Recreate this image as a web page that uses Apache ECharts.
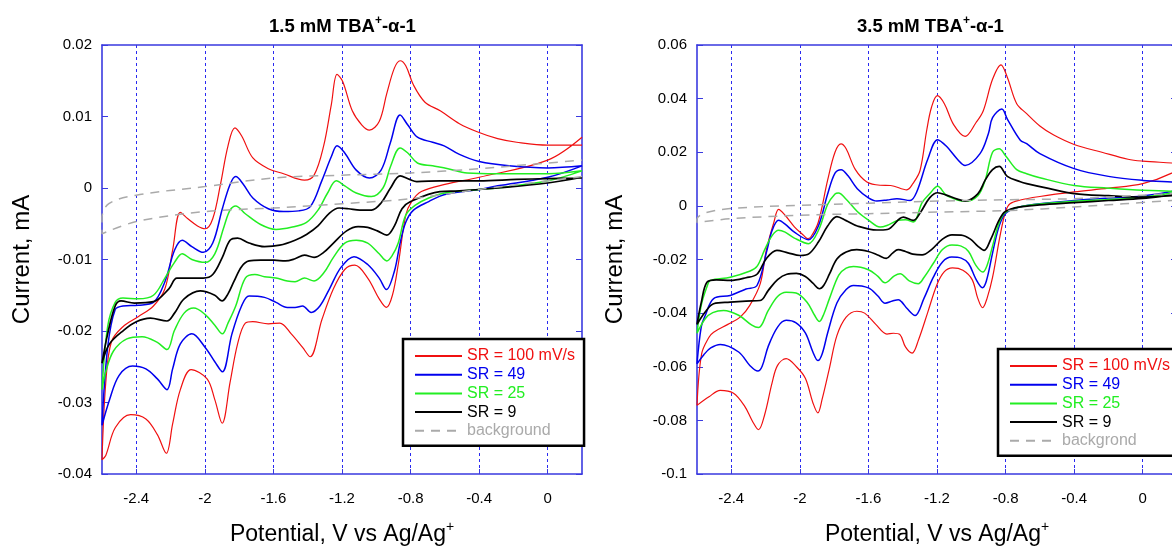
<!DOCTYPE html>
<html>
<head>
<meta charset="utf-8">
<script src="https://cdn.jsdelivr.net/npm/echarts@6/dist/echarts.min.js"></script>
<style>
html,body{margin:0;padding:0;background:#fff;}
#chart{width:1172px;height:546px;}
</style>
</head>
<body>
<div id="chart"></div>
<script>
// ---------- tick labels ----------
const xTicks = [-2.4, -2, -1.6, -1.2, -0.8, -0.4, 0];
const seriesNames = ['SR = 100 mV/s', 'SR = 49', 'SR = 25', 'SR = 9'];
const bgNameLeft = 'background';
const bgNameRight = 'backgrond';

// ---------- 1.5 mM panel: [potential V, current mA] ----------
const L100cath = [[0.2,0.0071],[0,0.0039],[-0.4,0.0015],[-0.6,0.0005],[-0.737,-0.0005],[-0.794,-0.0019],[-0.828,-0.0038],[-0.872,-0.0107],[-0.906,-0.015],[-0.941,-0.0167],[-0.983,-0.0155],[-1.05,-0.0126],[-1.125,-0.0108],[-1.184,-0.0114],[-1.25,-0.0141],[-1.317,-0.0184],[-1.386,-0.0236],[-1.43,-0.0223],[-1.496,-0.0204],[-1.563,-0.0189],[-1.63,-0.019],[-1.72,-0.0187],[-1.764,-0.0189],[-1.809,-0.0218],[-1.853,-0.0272],[-1.899,-0.0329],[-1.942,-0.0296],[-1.987,-0.0267],[-2.08,-0.0254],[-2.143,-0.0282],[-2.188,-0.033],[-2.225,-0.0371],[-2.277,-0.0345],[-2.344,-0.0323],[-2.433,-0.0317],[-2.522,-0.0335],[-2.578,-0.0374],[-2.6,-0.038]];
const L100anod = [[-2.578,-0.0272],[-2.545,-0.0215],[-2.478,-0.0194],[-2.389,-0.018],[-2.3,-0.0165],[-2.233,-0.0141],[-2.188,-0.0087],[-2.143,-0.0034],[-2.099,-0.0043],[-2.043,-0.0053],[-1.998,-0.0057],[-1.954,-0.0043],[-1.909,0.0005],[-1.865,0.0059],[-1.825,0.0084],[-1.786,0.0073],[-1.72,0.0042],[-1.63,0.0027],[-1.541,0.002],[-1.419,0.0011],[-1.363,0.0018],[-1.307,0.0059],[-1.262,0.0117],[-1.229,0.0159],[-1.196,0.0149],[-1.14,0.0108],[-1.084,0.0088],[-1.04,0.0081],[-0.983,0.0093],[-0.939,0.0132],[-0.894,0.0168],[-0.861,0.0178],[-0.828,0.0171],[-0.783,0.0144],[-0.716,0.012],[-0.627,0.0108],[-0.515,0.009],[-0.404,0.0078],[-0.292,0.0069],[-0.181,0.0064],[0,0.006],[0.2,0.006]];
const L49cath = [[0.2,0.0031],[0,0.0015],[-0.292,0.0003],[-0.4,-0.0002],[-0.6,-0.0009],[-0.694,-0.0019],[-0.783,-0.0031],[-0.828,-0.0048],[-0.861,-0.0077],[-0.894,-0.0116],[-0.941,-0.0142],[-0.983,-0.0126],[-1.05,-0.0107],[-1.13,-0.0096],[-1.206,-0.0111],[-1.273,-0.0141],[-1.329,-0.0165],[-1.38,-0.0174],[-1.43,-0.0165],[-1.474,-0.0167],[-1.519,-0.0167],[-1.585,-0.016],[-1.652,-0.0153],[-1.742,-0.0151],[-1.786,-0.0165],[-1.842,-0.0204],[-1.898,-0.0257],[-1.942,-0.0243],[-1.998,-0.0223],[-2.076,-0.0204],[-2.143,-0.0218],[-2.188,-0.0253],[-2.221,-0.0282],[-2.277,-0.0267],[-2.344,-0.0253],[-2.422,-0.0249],[-2.5,-0.0262],[-2.556,-0.0296],[-2.6,-0.0332]];
const L49anod = [[-2.567,-0.0223],[-2.523,-0.017],[-2.478,-0.0165],[-2.389,-0.0164],[-2.3,-0.016],[-2.233,-0.0131],[-2.177,-0.0087],[-2.132,-0.0073],[-2.076,-0.0082],[-2.009,-0.009],[-1.954,-0.0077],[-1.898,-0.0029],[-1.853,0.0005],[-1.82,0.0016],[-1.775,0.0005],[-1.72,-0.0014],[-1.63,-0.0029],[-1.541,-0.0033],[-1.452,-0.0032],[-1.385,-0.0026],[-1.318,0.001],[-1.262,0.0044],[-1.229,0.0059],[-1.184,0.0049],[-1.117,0.0025],[-1.04,0.0014],[-0.972,0.0025],[-0.917,0.0064],[-0.861,0.0102],[-0.816,0.0088],[-0.76,0.0071],[-0.671,0.0064],[-0.604,0.0059],[-0.515,0.0047],[-0.4,0.0037],[-0.226,0.0031],[0,0.0028],[0.2,0.0031]];
const L25cath = [[0.2,0.0024],[0,0.001],[-0.292,0],[-0.4,-0.0002],[-0.6,-0.0007],[-0.694,-0.0014],[-0.772,-0.0024],[-0.828,-0.0038],[-0.872,-0.0077],[-0.906,-0.0094],[-0.939,-0.0102],[-0.983,-0.0092],[-1.05,-0.0077],[-1.117,-0.0073],[-1.184,-0.0077],[-1.25,-0.0097],[-1.307,-0.0119],[-1.363,-0.013],[-1.419,-0.0126],[-1.474,-0.0131],[-1.519,-0.013],[-1.585,-0.0126],[-1.652,-0.0124],[-1.708,-0.0121],[-1.764,-0.0126],[-1.82,-0.0165],[-1.865,-0.0189],[-1.898,-0.0204],[-1.942,-0.0192],[-1.998,-0.0177],[-2.065,-0.0168],[-2.121,-0.0175],[-2.177,-0.0199],[-2.221,-0.0226],[-2.277,-0.0216],[-2.366,-0.0208],[-2.455,-0.0211],[-2.533,-0.0228],[-2.578,-0.0257],[-2.6,-0.0282]];
const L25anod = [[-2.567,-0.0194],[-2.523,-0.016],[-2.478,-0.0154],[-2.389,-0.0155],[-2.3,-0.015],[-2.233,-0.0126],[-2.177,-0.0104],[-2.132,-0.0092],[-2.076,-0.01],[-1.998,-0.0104],[-1.942,-0.0092],[-1.887,-0.0053],[-1.853,-0.0031],[-1.82,-0.0025],[-1.764,-0.0036],[-1.675,-0.0051],[-1.585,-0.0058],[-1.496,-0.0055],[-1.407,-0.0048],[-1.34,-0.0031],[-1.284,-0.0007],[-1.233,0.001],[-1.184,0.0003],[-1.117,-0.0007],[-1.028,-0.0012],[-0.961,0],[-0.917,0.003],[-0.861,0.0056],[-0.816,0.0049],[-0.76,0.0035],[-0.671,0.0031],[-0.582,0.0027],[-0.47,0.0021],[-0.292,0.002],[0,0.002],[0.2,0.0024]];
const L9cath = [[0.2,0.0015],[0,0.0007],[-0.292,0],[-0.515,-0.0004],[-0.629,-0.0005],[-0.8,-0.0019],[-0.85,-0.0029],[-0.894,-0.0053],[-0.939,-0.0066],[-0.994,-0.006],[-1.05,-0.0055],[-1.106,-0.0054],[-1.173,-0.006],[-1.25,-0.0077],[-1.307,-0.009],[-1.363,-0.0097],[-1.419,-0.0094],[-1.474,-0.0099],[-1.53,-0.0102],[-1.597,-0.0101],[-1.675,-0.0101],[-1.742,-0.0102],[-1.786,-0.011],[-1.831,-0.0131],[-1.865,-0.0148],[-1.9,-0.0158],[-1.942,-0.015],[-2.027,-0.0144],[-2.121,-0.0155],[-2.177,-0.0175],[-2.221,-0.0186],[-2.318,-0.0182],[-2.4,-0.0187],[-2.474,-0.0199],[-2.556,-0.0218],[-2.6,-0.0245]];
const L9anod = [[-2.567,-0.0204],[-2.523,-0.0165],[-2.489,-0.0158],[-2.411,-0.0161],[-2.3,-0.0159],[-2.21,-0.0141],[-2.163,-0.0126],[-2.088,-0.0126],[-2.009,-0.0126],[-1.954,-0.0121],[-1.898,-0.0097],[-1.853,-0.0073],[-1.809,-0.007],[-1.742,-0.0077],[-1.652,-0.0082],[-1.563,-0.008],[-1.474,-0.0073],[-1.407,-0.0065],[-1.34,-0.0053],[-1.273,-0.0035],[-1.217,-0.0028],[-1.162,-0.0029],[-1.095,-0.0031],[-1.028,-0.0031],[-0.972,-0.0021],[-0.917,0],[-0.861,0.0017],[-0.806,0.0012],[-0.764,0.0009],[-0.627,0.001],[-0.4,0.001],[-0.181,0.0012],[0,0.0013],[0.2,0.0014]];
const LbgCath = [[0.2,0.0016],[-0.4,-0.0002],[-0.8,-0.0015],[-1.2,-0.0022],[-1.6,-0.0028],[-2.0,-0.0033],[-2.4,-0.0047],[-2.6,-0.0064]];
const LbgAnod = [[-2.6,-0.0042],[-2.56,-0.0022],[-2.4,-0.001],[-2.0,0.0002],[-1.6,0.0014],[-1.2,0.0018],[-0.8,0.0021],[-0.4,0.0027],[0,0.0035],[0.2,0.0039]];

// ---------- 3.5 mM panel: [potential V, current mA] ----------
const R100cath = [[0.2,0.0145],[0.169,0.0122],[0,0.0083],[-0.2,0.0066],[-0.4,0.0052],[-0.6,0.0035],[-0.714,0.0022],[-0.774,0.0008],[-0.8,-0.0021],[-0.832,-0.0111],[-0.876,-0.0267],[-0.908,-0.0345],[-0.934,-0.038],[-0.962,-0.0345],[-0.995,-0.0275],[-1.049,-0.024],[-1.11,-0.0231],[-1.157,-0.0245],[-1.2,-0.0293],[-1.254,-0.0397],[-1.308,-0.05],[-1.345,-0.0549],[-1.384,-0.0526],[-1.416,-0.048],[-1.454,-0.0475],[-1.492,-0.0478],[-1.557,-0.0442],[-1.622,-0.04],[-1.668,-0.0393],[-1.73,-0.0415],[-1.784,-0.0484],[-1.827,-0.0604],[-1.87,-0.0721],[-1.895,-0.0772],[-1.924,-0.0734],[-1.968,-0.0643],[-2.02,-0.06],[-2.08,-0.057],[-2.13,-0.0595],[-2.162,-0.066],[-2.205,-0.0778],[-2.241,-0.0835],[-2.275,-0.0805],[-2.324,-0.0745],[-2.389,-0.0698],[-2.464,-0.0688],[-2.53,-0.0712],[-2.6,-0.0744]];
const R100anod = [[-2.573,-0.0552],[-2.53,-0.049],[-2.503,-0.0471],[-2.42,-0.0442],[-2.348,-0.0415],[-2.292,-0.0371],[-2.231,-0.029],[-2.195,-0.0163],[-2.151,-0.006],[-2.124,-0.0013],[-2.086,-0.0035],[-2.032,-0.0078],[-1.978,-0.011],[-1.955,-0.0122],[-1.935,-0.0115],[-1.892,-0.006],[-1.838,0.0096],[-1.795,0.02],[-1.76,0.0231],[-1.73,0.0213],[-1.676,0.0135],[-1.609,0.0089],[-1.532,0.0077],[-1.47,0.0076],[-1.376,0.006],[-1.341,0.0083],[-1.299,0.0132],[-1.26,0.0282],[-1.232,0.0368],[-1.198,0.0411],[-1.157,0.0381],[-1.103,0.0303],[-1.036,0.0259],[-0.973,0.031],[-0.93,0.0355],[-0.876,0.0472],[-0.827,0.0526],[-0.789,0.0478],[-0.735,0.0381],[-0.677,0.0344],[-0.6,0.0298],[-0.519,0.0264],[-0.4,0.0229],[-0.238,0.02],[-0.086,0.0174],[0,0.0167],[0.169,0.016],[0.2,0.0158]];
const R49cath = [[0.2,0.006],[0.169,0.0054],[0,0.0037],[-0.2,0.0029],[-0.4,0.002],[-0.6,0.0008],[-0.714,-0.0003],[-0.774,-0.0017],[-0.81,-0.0035],[-0.843,-0.0086],[-0.876,-0.0176],[-0.912,-0.028],[-0.935,-0.0305],[-0.973,-0.0273],[-1.016,-0.0215],[-1.059,-0.0195],[-1.114,-0.0191],[-1.168,-0.0209],[-1.222,-0.0267],[-1.276,-0.0345],[-1.328,-0.0409],[-1.373,-0.0384],[-1.406,-0.0358],[-1.425,-0.035],[-1.46,-0.0355],[-1.503,-0.0363],[-1.546,-0.0335],[-1.6,-0.0306],[-1.687,-0.0297],[-1.73,-0.0312],[-1.784,-0.0362],[-1.838,-0.0474],[-1.87,-0.0552],[-1.895,-0.0577],[-1.924,-0.0545],[-1.968,-0.0474],[-2.022,-0.0436],[-2.08,-0.0427],[-2.13,-0.0452],[-2.184,-0.0523],[-2.22,-0.0598],[-2.245,-0.0616],[-2.292,-0.0595],[-2.357,-0.0545],[-2.464,-0.0517],[-2.52,-0.053],[-2.56,-0.0555],[-2.6,-0.0589]];
const R49anod = [[-2.575,-0.045],[-2.552,-0.0409],[-2.503,-0.0346],[-2.406,-0.0334],[-2.314,-0.031],[-2.25,-0.0297],[-2.192,-0.0166],[-2.162,-0.0092],[-2.124,-0.0054],[-2.086,-0.0068],[-2.032,-0.0098],[-1.95,-0.0126],[-1.892,-0.0075],[-1.838,0.0044],[-1.795,0.0122],[-1.759,0.0135],[-1.719,0.0112],[-1.665,0.0064],[-1.6,0.003],[-1.551,0.0018],[-1.49,0.0022],[-1.434,0.0027],[-1.357,0.002],[-1.319,0.0051],[-1.254,0.0174],[-1.196,0.0247],[-1.146,0.0223],[-1.081,0.0174],[-1.036,0.0151],[-0.949,0.0195],[-0.9,0.027],[-0.876,0.0329],[-0.822,0.0361],[-0.789,0.0323],[-0.714,0.0245],[-0.677,0.0232],[-0.6,0.0195],[-0.4,0.0139],[-0.2,0.011],[0,0.0095],[0.169,0.0089],[0.2,0.0088]];
const R25cath = [[0.2,0.0052],[0.169,0.0048],[0,0.0032],[-0.2,0.0024],[-0.4,0.0017],[-0.6,0.0007],[-0.714,-0.0003],[-0.774,-0.0015],[-0.81,-0.003],[-0.843,-0.0073],[-0.876,-0.015],[-0.908,-0.0222],[-0.933,-0.0247],[-0.973,-0.0222],[-1.016,-0.017],[-1.059,-0.015],[-1.113,-0.0146],[-1.168,-0.0163],[-1.222,-0.0215],[-1.276,-0.0267],[-1.309,-0.029],[-1.362,-0.028],[-1.415,-0.0253],[-1.449,-0.0261],[-1.503,-0.0287],[-1.546,-0.0262],[-1.6,-0.0238],[-1.687,-0.0226],[-1.73,-0.0232],[-1.773,-0.0258],[-1.827,-0.0345],[-1.86,-0.0403],[-1.886,-0.0431],[-1.914,-0.0408],[-1.957,-0.036],[-2.022,-0.0325],[-2.08,-0.0322],[-2.13,-0.0338],[-2.184,-0.039],[-2.241,-0.0454],[-2.28,-0.0445],[-2.357,-0.0408],[-2.445,-0.039],[-2.508,-0.0398],[-2.551,-0.042],[-2.6,-0.0475]];
const R25anod = [[-2.575,-0.037],[-2.541,-0.03],[-2.522,-0.0278],[-2.406,-0.0266],[-2.29,-0.0243],[-2.249,-0.0225],[-2.205,-0.0163],[-2.162,-0.0111],[-2.124,-0.0091],[-2.086,-0.0098],[-2.032,-0.012],[-1.95,-0.0141],[-1.892,-0.0092],[-1.838,0.0005],[-1.795,0.0044],[-1.775,0.0048],[-1.73,0.0025],[-1.665,-0.0021],[-1.6,-0.0053],[-1.532,-0.0079],[-1.492,-0.0073],[-1.425,-0.0054],[-1.384,-0.0052],[-1.338,-0.006],[-1.287,0.0012],[-1.243,0.0045],[-1.196,0.0073],[-1.146,0.004],[-1.081,0.0022],[-1.036,0.0017],[-0.962,0.0038],[-0.919,0.0096],[-0.876,0.02],[-0.837,0.0213],[-0.8,0.0187],[-0.735,0.0135],[-0.677,0.012],[-0.6,0.0105],[-0.4,0.0076],[-0.2,0.0066],[0,0.0058],[0.169,0.0055],[0.2,0.0055]];
const R9cath = [[0.2,0.0042],[0.169,0.004],[0,0.0028],[-0.2,0.002],[-0.4,0.0012],[-0.6,0.0004],[-0.714,-0.0004],[-0.774,-0.0013],[-0.81,-0.0025],[-0.843,-0.006],[-0.886,-0.0124],[-0.925,-0.0166],[-0.962,-0.015],[-1.005,-0.0124],[-1.059,-0.0109],[-1.113,-0.0108],[-1.168,-0.0124],[-1.232,-0.0163],[-1.287,-0.0183],[-1.341,-0.018],[-1.384,-0.017],[-1.427,-0.0163],[-1.459,-0.0176],[-1.496,-0.0196],[-1.546,-0.0183],[-1.6,-0.017],[-1.668,-0.0163],[-1.73,-0.0172],[-1.784,-0.0198],[-1.827,-0.0254],[-1.86,-0.0296],[-1.886,-0.0309],[-1.924,-0.0288],[-1.968,-0.0263],[-2.02,-0.0252],[-2.076,-0.0255],[-2.13,-0.0275],[-2.184,-0.0315],[-2.231,-0.0353],[-2.314,-0.0355],[-2.406,-0.0359],[-2.503,-0.0365],[-2.551,-0.0395],[-2.6,-0.0442]];
const R9anod = [[-2.575,-0.036],[-2.542,-0.0285],[-2.487,-0.0276],[-2.406,-0.0278],[-2.314,-0.0268],[-2.25,-0.0255],[-2.195,-0.0196],[-2.134,-0.0166],[-2.07,-0.0175],[-1.998,-0.0185],[-1.946,-0.0178],[-1.892,-0.0135],[-1.838,-0.0075],[-1.784,-0.004],[-1.73,-0.0055],[-1.665,-0.0075],[-1.551,-0.009],[-1.49,-0.0088],[-1.396,-0.0042],[-1.338,-0.0054],[-1.297,-0.0025],[-1.243,0.003],[-1.196,0.0049],[-1.146,0.004],[-1.081,0.0025],[-1.036,0.0018],[-0.962,0.0045],[-0.919,0.0096],[-0.876,0.0135],[-0.837,0.0147],[-0.79,0.011],[-0.714,0.009],[-0.677,0.0083],[-0.55,0.0065],[-0.4,0.0046],[-0.2,0.0038],[0,0.0033],[0.169,0.0038],[0.2,0.004]];
const RbgCath = [[0.2,0.0022],[0.17,0.002],[-0.4,-0.0004],[-0.774,-0.0017],[-1.182,-0.0023],[-1.6,-0.0029],[-1.998,-0.0035],[-2.406,-0.0048],[-2.6,-0.0062]];
const RbgAnod = [[-2.6,-0.005],[-2.56,-0.0028],[-2.406,-0.001],[-1.998,0.0002],[-1.6,0.001],[-1.182,0.0018],[-0.774,0.0023],[-0.4,0.0027],[0.17,0.0046],[0.2,0.0048]];

// ---------- styling ----------
const FONT = "'Liberation Sans', Arial, sans-serif";
const FRAME = '#3a3ae0';
const GRIDC = '#2a2af0';
const colors = ['#f01010', '#0000ee', '#22ee22', '#000000'];
const widths = [1.2, 1.5, 1.5, 1.7];
const BG = '#aaaaaa';

const grids = [
  {left: 102, top: 45, width: 480, height: 429, containLabel: false, outerBoundsMode: 'none'},
  {left: 697, top: 45, width: 480, height: 429, containLabel: false, outerBoundsMode: 'none'}
];

function xAxes(gi) {
  return [
    {
      type: 'value', gridIndex: gi, min: -2.6, max: 0.2, position: 'bottom',
      axisLine: {show: true, onZero: false, lineStyle: {color: FRAME, width: 1.6}},
      axisTick: {show: true, inside: true, length: 5, customValues: xTicks, lineStyle: {color: FRAME}},
      axisLabel: {customValues: xTicks, color: '#000', fontSize: 15, fontFamily: FONT, margin: 17},
      splitLine: {show: true, lineStyle: {color: GRIDC, type: [3, 3], width: 1}},
      name: '{a|Potential, V vs Ag/Ag}{s|+}',
      nameLocation: 'middle', nameGap: 46,
      nameTextStyle: {
        rich: {
          a: {fontSize: 23, fontFamily: FONT, color: '#000', lineHeight: 26, verticalAlign: 'bottom'},
          s: {fontSize: 14, fontFamily: FONT, color: '#000', lineHeight: 26, verticalAlign: 'top'}
        }
      }
    },
    {
      type: 'value', gridIndex: gi, min: -2.6, max: 0.2, position: 'top',
      axisLine: {show: true, onZero: false, lineStyle: {color: FRAME, width: 1.6}},
      axisTick: {show: false}, axisLabel: {show: false}, splitLine: {show: false}
    }
  ];
}

function yAxes(gi, min, max, interval, gap) {
  return [
    {
      type: 'value', gridIndex: gi, min: min, max: max, interval: interval, position: 'left',
      axisLine: {show: true, onZero: false, lineStyle: {color: FRAME, width: 1.6}},
      axisTick: {show: true, inside: true, length: 6, lineStyle: {color: FRAME}},
      axisLabel: {color: '#000', fontSize: 15, fontFamily: FONT, margin: 10},
      splitLine: {show: false},
      name: 'Current, mA', nameLocation: 'middle', nameGap: gap,
      nameTextStyle: {fontSize: 24, fontFamily: FONT, color: '#000'}
    },
    {
      type: 'value', gridIndex: gi, min: min, max: max, interval: interval, position: 'right',
      axisLine: {show: true, onZero: false, lineStyle: {color: FRAME, width: 1.6}},
      axisTick: {show: true, inside: true, length: 6, lineStyle: {color: FRAME}},
      axisLabel: {show: false}, splitLine: {show: false}
    }
  ];
}

function cv(name, cath, anod, axisIdx, k) {
  return {
    type: 'line', name: name, xAxisIndex: axisIdx, yAxisIndex: axisIdx,
    data: cath.concat(anod), smooth: 0.35, symbol: 'none', showSymbol: false,
    lineStyle: {color: colors[k], width: widths[k]}, itemStyle: {color: colors[k]},
    z: 3 + k, silent: true
  };
}
function bg(name, cath, anod, axisIdx) {
  return {
    type: 'line', name: name, xAxisIndex: axisIdx, yAxisIndex: axisIdx,
    data: cath.concat(anod), smooth: 0.35, symbol: 'none', showSymbol: false,
    lineStyle: {color: BG, width: 1.5, type: [9, 7]}, itemStyle: {color: BG},
    z: 8, silent: true
  };
}

const leftSets = [[L100cath, L100anod], [L49cath, L49anod], [L25cath, L25anod], [L9cath, L9anod]];
const rightSets = [[R100cath, R100anod], [R49cath, R49anod], [R25cath, R25anod], [R9cath, R9anod]];

const series = [];
leftSets.forEach((s, k) => series.push(cv(seriesNames[k], s[0], s[1], 0, k)));
series.push(bg(bgNameLeft, LbgCath, LbgAnod, 0));
rightSets.forEach((s, k) => series.push(cv(seriesNames[k], s[0], s[1], 2, k)));
series.push(bg(bgNameRight, RbgCath, RbgAnod, 2));

function legendData(bgName) {
  const d = seriesNames.map((n, k) => ({name: n, textStyle: {color: colors[k]}}));
  d.push({name: bgName, textStyle: {color: BG}});
  return d;
}
function legend(left, top, bgName, padRight) {
  return {
    left: left, top: top, orient: 'vertical', selectedMode: false,
    itemWidth: 47, itemHeight: 14, itemGap: 2.7,
    padding: [9, padRight, 7, 11],
    borderColor: '#000', borderWidth: 2.5, backgroundColor: '#fff',
    itemStyle: {opacity: 0, color: 'rgba(0,0,0,0)', borderWidth: 0},
    textStyle: {fontSize: 16, fontFamily: FONT},
    data: legendData(bgName)
  };
}

function title(text, left) {
  return {
    text: '{b|' + text + '}{s|+}{b|-α-1}', left: left, top: 10,
    textStyle: {
      rich: {
        b: {fontSize: 18.5, fontWeight: 'bold', fontFamily: FONT, color: '#000', lineHeight: 21, verticalAlign: 'bottom'},
        s: {fontSize: 12, fontWeight: 'bold', fontFamily: FONT, color: '#000', lineHeight: 21, verticalAlign: 'top'}
      }
    }
  };
}

const chart = echarts.init(document.getElementById('chart'), null, {renderer: 'canvas'});
chart.setOption({
  animation: false,
  backgroundColor: '#fff',
  title: [title('1.5 mM TBA', 264), title('3.5 mM TBA', 852)],
  grid: grids,
  xAxis: xAxes(0).concat(xAxes(1)),
  yAxis: yAxes(0, -0.04, 0.02, 0.01, 68).concat(yAxes(1, -0.1, 0.06, 0.02, 70)),
  legend: [legend(403, 339, bgNameLeft, 9), legend(998, 349, bgNameRight, 16)],
  series: series
});
</script>
</body>
</html>
